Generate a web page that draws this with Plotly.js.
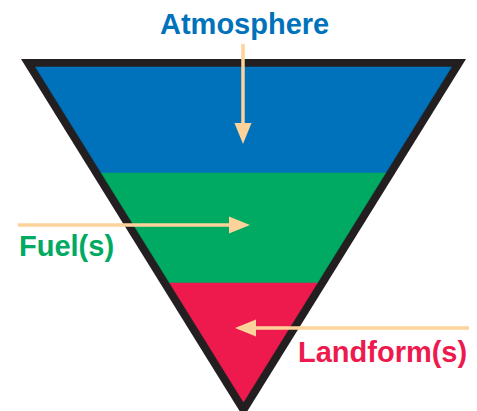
<!DOCTYPE html>
<html>
<head>
<meta charset="utf-8">
<script src="https://cdn.plot.ly/plotly-3.0.1.min.js"></script>
<style>html,body{margin:0;padding:0;background:#fff;}#chart{width:477px;height:411px;}</style>
</head>
<body>
<div id="chart"></div>
<script>
// Layers of the inverted triangle (top to bottom)
const layers = ['Atmosphere', 'Fuel(s)', 'Landform(s)'];
const layerTop = [67, 173, 283];
const layerBottom = [173, 283, 402];
const layerColors = ['#0072BC', '#00AA62', '#EE1A4E'];

// Labels
const labelX = [244, 17, 469];
const labelY = [24, 246, 352];
const labelAnchor = ['center', 'left', 'right'];

// Arrows (tail -> tip)
const arrowTailX = [243, 18, 469];
const arrowTailY = [44, 225, 328];
const arrowTipX = [243, 250, 235];
const arrowTipY = [144, 225, 328];

// Triangle geometry
const centerX = 243.5;
const innerTopY = 67, innerHalfTop = 208, innerApexY = 402;
const outerTopY = 59, outerHalfTop = 222.5;
const outerApexY = outerTopY + outerHalfTop * (innerApexY - innerTopY) / innerHalfTop;

function halfW(y) { return innerHalfTop * (innerApexY - y) / (innerApexY - innerTopY); }

const traces = [];
// outer black border
traces.push({
  x: [centerX - outerHalfTop, centerX + outerHalfTop, centerX, centerX - outerHalfTop],
  y: [outerTopY, outerTopY, outerApexY, outerTopY],
  mode: 'lines', fill: 'toself', fillcolor: '#231F20', line: {width: 0, color: '#231F20'},
  hoverinfo: 'skip'
});
layers.forEach((name, i) => {
  const yt = layerTop[i], yb = layerBottom[i];
  traces.push({
    name: name,
    x: [centerX - halfW(yt), centerX + halfW(yt), centerX + halfW(yb), centerX - halfW(yb), centerX - halfW(yt)],
    y: [yt, yt, yb, yb, yt],
    mode: 'lines', fill: 'toself', fillcolor: layerColors[i], line: {width: 0.5, color: layerColors[i]},
    hoverinfo: 'skip'
  });
});

const arrowColor = '#FDD39B';
const headLen = 21, headHalf = 8.5;
arrowTailX.forEach((tx, i) => {
  const ty = arrowTailY[i], px = arrowTipX[i], py = arrowTipY[i];
  const dx = px - tx, dy = py - ty, L = Math.hypot(dx, dy);
  const ux = dx / L, uy = dy / L;
  const bx = px - ux * headLen, by = py - uy * headLen;
  traces.push({
    x: [tx, bx + ux * 2], y: [ty, by + uy * 2], mode: 'lines',
    line: {color: arrowColor, width: 3.5}, hoverinfo: 'skip'
  });
  traces.push({
    x: [px, bx - uy * headHalf, bx + uy * headHalf, px],
    y: [py, by + ux * headHalf, by - ux * headHalf, py],
    mode: 'lines', fill: 'toself', fillcolor: arrowColor, line: {width: 0, color: arrowColor},
    hoverinfo: 'skip'
  });
});

const annotations = layers.map((name, i) => ({
  x: labelX[i], y: labelY[i], xref: 'x', yref: 'y',
  text: '<b>' + name + '</b>', showarrow: false,
  xanchor: labelAnchor[i], yanchor: 'middle',
  font: {family: 'Liberation Sans, Arial, sans-serif', size: 29, color: layerColors[i]}
}));

const layout = {
  width: 477, height: 411,
  margin: {l: 0, r: 0, t: 0, b: 0, pad: 0},
  paper_bgcolor: '#ffffff', plot_bgcolor: '#ffffff',
  showlegend: false,
  xaxis: {range: [0, 477], visible: false, fixedrange: true},
  yaxis: {range: [411, 0], visible: false, fixedrange: true},
  annotations: annotations
};

Plotly.newPlot('chart', traces, layout, {staticPlot: true, displayModeBar: false});
</script>
</body>
</html>
